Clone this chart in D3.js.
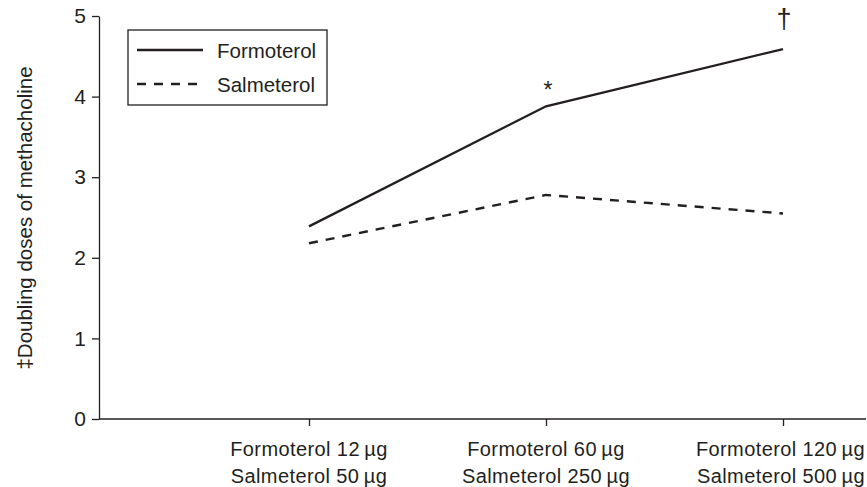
<!DOCTYPE html>
<html>
<head>
<meta charset="utf-8">
<script src="https://cdn.jsdelivr.net/npm/d3@7"></script>
<style>
  html, body { margin: 0; padding: 0; background: #fff; }
  svg { display: block; font-family: "Liberation Sans", Arial, Helvetica, sans-serif; }
</style>
</head>
<body>
<svg id="chart" width="867" height="487"></svg>
<script>
// Dose levels (x categories), two label lines each
const doseLevels = ["low", "mid", "high"];
const formoterolDoseLabels = ["Formoterol 12\u2009µg", "Formoterol 60\u2009µg", "Formoterol 120\u2009µg"];
const salmeterolDoseLabels = ["Salmeterol 50\u2009µg", "Salmeterol 250\u2009µg", "Salmeterol 500\u2009µg"];

// Mean protection, doubling doses of methacholine
const formoterolValues = [2.39, 3.88, 4.59];
const salmeterolValues = [2.18, 2.78, 2.55];

// Significance markers above the formoterol line
const markerSymbols = ["", "*", "\u2020"];

const yTicks = [0, 1, 2, 3, 4, 5];
const yLabel = "\u2021Doubling doses of methacholine";

const ink = "#231f20";
const width = 867;
const svg = d3.select("#chart");

const x = d3.scalePoint().domain(doseLevels).range([309, 783]);
const y = d3.scaleLinear().domain([0, 5]).range([419, 16]);
const axisLeftX = 99;

// Y axis
const yAxis = svg.append("g")
  .attr("transform", `translate(${axisLeftX},0)`)
  .call(d3.axisLeft(y).tickValues(yTicks).tickFormat(d3.format("d"))
    .tickSize(7).tickSizeOuter(0).tickPadding(6));
yAxis.select(".domain").attr("stroke", ink).attr("stroke-width", 1.3);
yAxis.selectAll(".tick line").attr("stroke", ink).attr("stroke-width", 1.3);
yAxis.selectAll(".tick text")
  .attr("font-size", 21).attr("fill", ink)
  .attr("font-family", "'Liberation Sans', Arial, sans-serif");

// X axis, with baseline running to the right edge
const xAxis = svg.append("g")
  .attr("transform", `translate(0,${y(0)})`)
  .call(d3.axisBottom(x).tickSize(7).tickSizeOuter(0).tickFormat(() => ""));
xAxis.select(".domain").remove();
xAxis.append("line")
  .attr("x1", axisLeftX).attr("x2", width - 1)
  .attr("stroke", ink).attr("stroke-width", 1.3);
xAxis.selectAll(".tick line").attr("stroke", ink).attr("stroke-width", 1.3);

// Two-line category labels, kept inside the right edge
const catLabels = svg.append("g")
  .attr("font-size", 20).attr("fill", ink).attr("text-anchor", "middle")
  .attr("letter-spacing", 0.4);
function keepInside(sel) {
  sel.each(function () {
    const w = this.getComputedTextLength();
    const cx = +this.getAttribute("x");
    const overflow = cx + w / 2 - (width - 2);
    if (overflow > 0) this.setAttribute("x", cx - overflow);
  });
}
catLabels.selectAll("text.f")
  .data(doseLevels).join("text").attr("class", "f")
  .attr("x", d => x(d)).attr("y", 456)
  .text((d, i) => formoterolDoseLabels[i])
  .call(keepInside);
catLabels.selectAll("text.s")
  .data(doseLevels).join("text").attr("class", "s")
  .attr("x", d => x(d)).attr("y", 483)
  .text((d, i) => salmeterolDoseLabels[i])
  .call(keepInside);

// Y axis title
svg.append("text")
  .attr("transform", `translate(32,218) rotate(-90)`)
  .attr("text-anchor", "middle")
  .attr("font-size", 20.5).attr("fill", ink)
  .text(yLabel);

// Series lines
const line = d3.line().x((d, i) => x(doseLevels[i])).y(d => y(d));
svg.append("path")
  .datum(formoterolValues)
  .attr("d", line)
  .attr("fill", "none").attr("stroke", ink).attr("stroke-width", 2.4);
svg.append("path")
  .datum(salmeterolValues)
  .attr("d", line)
  .attr("fill", "none").attr("stroke", ink).attr("stroke-width", 2.4)
  .attr("stroke-dasharray", "9,8");

// Significance markers
svg.selectAll("text.marker")
  .data(markerSymbols).join("text").attr("class", "marker")
  .attr("x", (d, i) => x(doseLevels[i]) + (d === "*" ? 2 : 1))
  .attr("y", (d, i) => d === "*" ? y(formoterolValues[i]) - 8 : y(formoterolValues[i]) - 21)
  .attr("text-anchor", "middle")
  .attr("font-size", d => d === "*" ? 23 : 27)
  .attr("fill", ink)
  .text(d => d);

// Legend
const legend = svg.append("g");
legend.append("rect")
  .attr("x", 128).attr("y", 30).attr("width", 199).attr("height", 75)
  .attr("fill", "#fff").attr("stroke", ink).attr("stroke-width", 1.3);
const legendItems = [
  { name: "Formoterol", dash: null, yPos: 50 },
  { name: "Salmeterol", dash: "9,8", yPos: 84 }
];
legend.selectAll("line.key")
  .data(legendItems).join("line").attr("class", "key")
  .attr("x1", 137).attr("x2", 203)
  .attr("y1", d => d.yPos).attr("y2", d => d.yPos)
  .attr("stroke", ink).attr("stroke-width", 2.4)
  .attr("stroke-dasharray", d => d.dash);
legend.selectAll("text.key")
  .data(legendItems).join("text").attr("class", "key")
  .attr("x", 217).attr("y", d => d.yPos + 8)
  .attr("font-size", 20.5).attr("fill", ink)
  .text(d => d.name);
</script>
</body>
</html>
